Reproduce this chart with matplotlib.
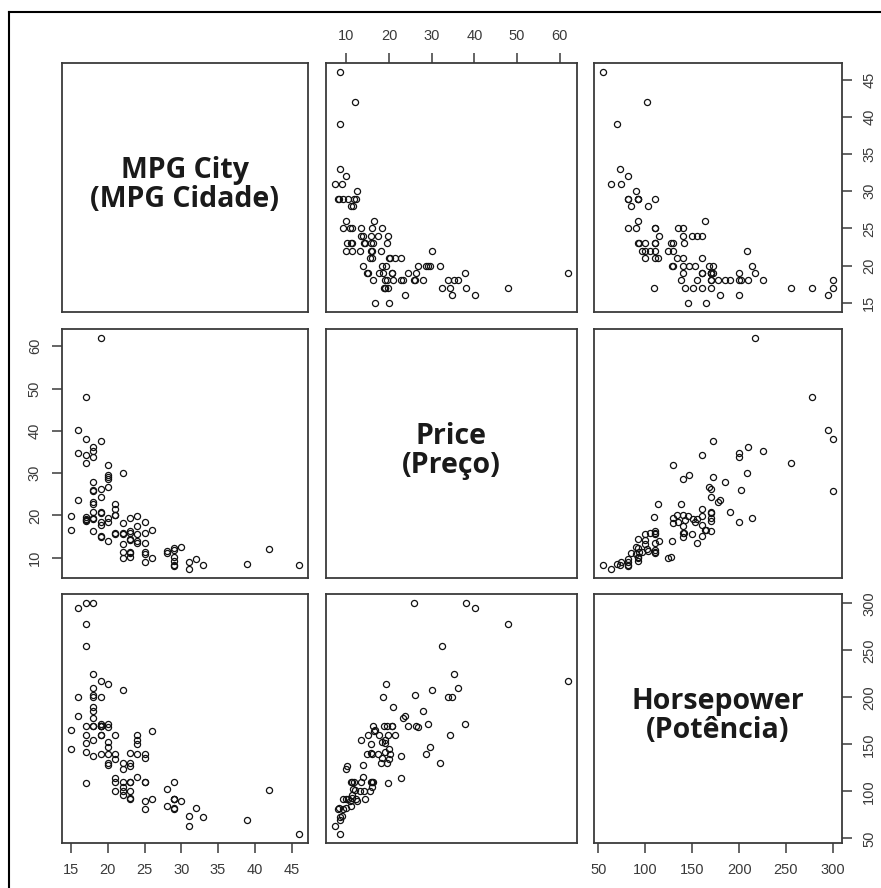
import matplotlib
matplotlib.use("Agg")
import matplotlib.pyplot as plt
from matplotlib.lines import Line2D

# Cars93: price (1000 USD), MPG city, horsepower
price = [15.9, 33.9, 29.1, 37.7, 30.0, 15.7, 20.8, 23.7, 26.3, 34.7, 40.1, 13.4, 11.4, 15.1, 15.9,
         16.3, 16.6, 18.8, 38.0, 18.4, 15.8, 29.5, 9.2, 11.3, 13.3, 19.0, 15.6, 25.8, 12.2, 19.3,
         7.4, 10.1, 11.3, 15.9, 14.0, 19.9, 20.2, 20.9, 8.4, 12.5, 19.8, 12.1, 17.5, 8.0, 10.0,
         10.0, 13.9, 47.9, 28.0, 35.2, 34.3, 36.1, 8.3, 11.6, 16.5, 19.1, 32.5, 31.9, 61.9, 14.1,
         14.9, 10.3, 26.1, 11.8, 15.7, 19.1, 21.5, 13.5, 16.3, 19.5, 20.7, 14.4, 9.0, 11.1, 17.7,
         18.5, 24.4, 28.7, 11.1, 8.4, 10.9, 19.5, 8.6, 9.8, 18.4, 18.2, 22.7, 9.1, 19.7, 20.0,
         23.3, 22.7, 26.7]
mpg_city = [25, 18, 20, 19, 22, 22, 19, 16, 19, 16, 16, 25, 25, 19, 21,
            18, 15, 17, 17, 20, 23, 20, 29, 23, 22, 17, 21, 18, 29, 20,
            31, 23, 22, 22, 24, 15, 21, 18, 46, 30, 24, 42, 24, 29, 22,
            26, 20, 17, 18, 18, 17, 18, 29, 28, 26, 18, 17, 20, 19, 23,
            19, 29, 18, 29, 24, 17, 21, 24, 23, 18, 19, 23, 31, 23, 19,
            19, 19, 20, 28, 33, 25, 23, 39, 32, 25, 22, 18, 25, 17, 21,
            18, 21, 20]
horsepower = [140, 200, 172, 172, 208, 110, 170, 180, 170, 200, 295, 110, 110, 160, 110,
              170, 165, 170, 300, 153, 141, 147, 92, 93, 100, 142, 100, 300, 92, 214,
              63, 127, 96, 105, 115, 145, 140, 190, 55, 90, 160, 102, 140, 81, 124,
              92, 128, 278, 185, 225, 160, 210, 82, 103, 164, 155, 255, 130, 217, 100,
              140, 92, 202, 110, 150, 151, 160, 155, 110, 170, 170, 92, 74, 110, 160,
              200, 170, 140, 85, 73, 90, 130, 70, 82, 135, 130, 138, 81, 109, 134,
              178, 114, 168]

labels = ["MPG City\n(MPG Cidade)", "Price\n(Preço)", "Horsepower\n(Potência)"]
variables = [mpg_city, price, horsepower]
ticks = [[15, 20, 25, 30, 35, 40, 45],
         [10, 20, 30, 40, 50, 60],
         [50, 100, 150, 200, 250, 300]]

W, H = 881, 888
fig = plt.figure(figsize=(W / 100, H / 100), dpi=100)

# panel edges in pixels
xs = [(62, 308), (326, 577), (594, 842)]
ys = [(63, 312), (329, 578), (594, 843)]

spine_col = "#3a3a3a"


def lims(v):
    lo, hi = min(v), max(v)
    pad = (hi - lo) * 0.04
    return lo - pad, hi + pad


for i in range(3):
    for j in range(3):
        x0, x1 = xs[j]
        y0, y1 = ys[i]
        ax = fig.add_axes([x0 / W, 1 - y1 / H, (x1 - x0) / W, (y1 - y0) / H])
        for s in ax.spines.values():
            s.set_color(spine_col)
            s.set_linewidth(1.3)
        ax.set_xlim(lims(variables[j]))
        ax.set_ylim(lims(variables[i]))
        ax.tick_params(direction="out", length=7.5, width=1.1, color=spine_col,
                       labelsize=10.5, labelcolor="#3a3a3a", pad=7)
        ax.set_xticks([])
        ax.set_yticks([])
        if i == j:
            ax.text(0.5, 0.51, labels[i], transform=ax.transAxes, ha="center", va="center",
                    fontsize=20.5, fontweight="bold", family="Open Sans", color="#1a1a1a",
                    linespacing=1.0)
        else:
            ax.plot(variables[j], variables[i], "o", mfc="none", mec="#111111",
                    ms=4.4, mew=0.9)
        # axes on the outer edges, alternating like pairs()
        if i == 0 and j % 2 == 1:
            ax.set_xticks(ticks[j])
            ax.xaxis.tick_top()
        if i == 2 and j % 2 == 0:
            ax.set_xticks(ticks[j])
        if j == 0 and i % 2 == 1:
            ax.set_yticks(ticks[i])
            for t in ax.get_yticklabels():
                t.set_rotation(90)
                t.set_va("center")
        if j == 2 and i % 2 == 0:
            ax.set_yticks(ticks[i])
            ax.yaxis.tick_right()
            for t in ax.get_yticklabels():
                t.set_rotation(90)
                t.set_va("center")
        for t in ax.get_xticklabels() + ax.get_yticklabels():
            t.set_family("Liberation Sans")

# outer frame (left and top edges visible)
fig.add_artist(Line2D([9 / W, 9 / W], [0, 1 - 12 / H], transform=fig.transFigure,
                      color="black", lw=1.5))
fig.add_artist(Line2D([9 / W, 1], [1 - 12 / H, 1 - 12 / H], transform=fig.transFigure,
                      color="black", lw=1.5))

fig.savefig("out.png", dpi=100)
